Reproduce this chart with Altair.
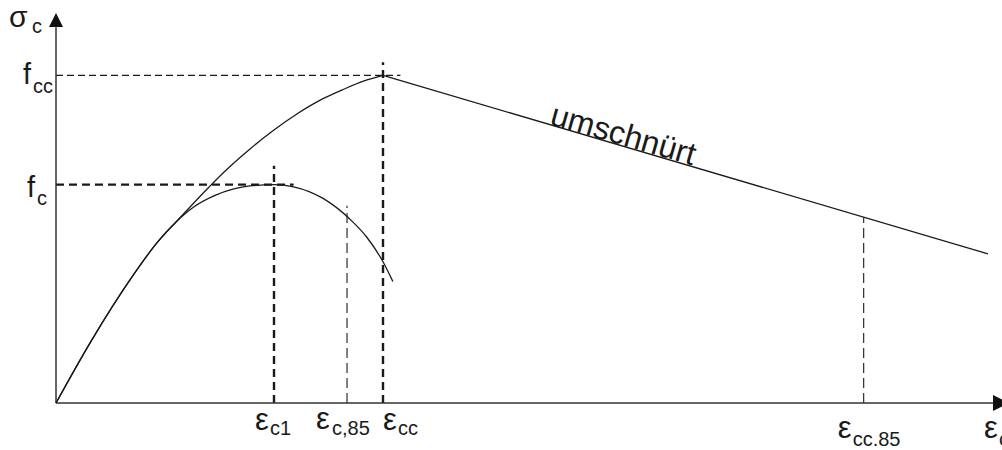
import altair as alt
import pandas as pd

# Stress-strain diagram of concrete: unconfined vs. confined (umschnürt)
# Units: strain in per mille, stress in MPa (schematic)

FONT = "Liberation Sans"
INK = "#1a1a1a"

# pixel density of the drawing and location of the origin on the canvas
W, H = 1002, 450
PX_PER_STRAIN = 109.0
PX_PER_STRESS = 7.28
ORIGIN_PX = (56, 403)

X_MIN = -ORIGIN_PX[0] / PX_PER_STRAIN
X_MAX = (W - ORIGIN_PX[0]) / PX_PER_STRAIN
Y_MIN = -(H - ORIGIN_PX[1]) / PX_PER_STRESS
Y_MAX = ORIGIN_PX[1] / PX_PER_STRESS

# characteristic values
f_c = 30.0
f_cc = 45.0
eps_c1 = 2.0
eps_c85 = 2.67
eps_cc = 3.0
eps_cc85 = 7.41

# ascending branch of the confined curve up to the peak (eps_cc, f_cc)
confined_strain = [0.0, 0.31, 0.71, 0.92, 1.11, 1.40, 1.54, 1.78, 1.99, 2.21, 2.45, 2.64, 2.82, 3.00]
confined_stress = [0.0, 8.2, 17.6, 21.9, 25.0, 29.6, 31.7, 34.9, 37.4, 39.7, 41.8, 43.1, 44.2, 45.0]

# unconfined curve with its peak at (eps_c1, f_c)
unconfined_strain = [0.0, 0.31, 0.71, 0.92, 1.11, 1.26, 1.47, 1.72, 2.00, 2.18, 2.45, 2.70, 2.85, 3.00, 3.09]
unconfined_stress = [0.0, 8.2, 17.6, 21.9, 25.0, 26.9, 28.6, 29.7, 30.0, 29.7, 28.1, 25.2, 22.8, 19.4, 16.7]

# linear softening branch of the confined concrete
softening_strain = [3.00, 8.55]
softening_stress = [45.0, 20.5]

XS = alt.Scale(domain=[X_MIN, X_MAX], nice=False, zero=False)
YS = alt.Scale(domain=[Y_MIN, Y_MAX], nice=False, zero=False)


def X(field):
    return alt.X(field, type="quantitative", scale=XS, axis=None)


def Y(field):
    return alt.Y(field, type="quantitative", scale=YS, axis=None)


curves = pd.concat([
    pd.DataFrame({"eps": confined_strain, "sig": confined_stress, "curve": "umschnürt"}),
    pd.DataFrame({"eps": unconfined_strain, "sig": unconfined_stress, "curve": "unumschnürt"}),
])

curve_layer = alt.Chart(curves).mark_line(
    interpolate="monotone", color=INK, strokeWidth=1.3
).encode(x=X("eps"), y=Y("sig"), detail="curve:N")

softening_layer = alt.Chart(
    pd.DataFrame({"eps": softening_strain, "sig": softening_stress})
).mark_line(color=INK, strokeWidth=1.3).encode(x=X("eps"), y=Y("sig"))


def rule_layer(df, width, dash):
    return alt.Chart(df).mark_rule(
        color=INK, strokeWidth=width, strokeDash=dash
    ).encode(x=X("x0"), x2="x1", y=Y("y0"), y2="y1")


# guide lines
thick_h = pd.DataFrame({"x0": [0.0], "x1": [2.18], "y0": [f_c], "y1": [f_c]})
thin_h = pd.DataFrame({"x0": [0.0], "x1": [3.16], "y0": [f_cc], "y1": [f_cc]})
thick_v = pd.DataFrame({"x0": [eps_c1, eps_cc], "x1": [eps_c1, eps_cc],
                        "y0": [0.0, 0.0], "y1": [32.6, 46.8]})
thin_v = pd.DataFrame({"x0": [eps_c85, eps_cc85], "x1": [eps_c85, eps_cc85],
                       "y0": [0.0, 0.0], "y1": [27.1, 25.5]})

guides = [
    rule_layer(thick_h, 2.4, [8, 5]),
    rule_layer(thin_h, 1.1, [7, 4]),
    rule_layer(thick_v, 2.4, [8, 5]),
    rule_layer(thin_v, 1.1, [10, 5]),
]

# coordinate axes with arrow heads
axes_df = pd.DataFrame({"x0": [0.0, 0.0], "x1": [0.0, 8.61], "y0": [0.0, 0.0], "y1": [51.6, 0.0]})
axes_layer = alt.Chart(axes_df).mark_rule(color="#333333", strokeWidth=1.5).encode(
    x=X("x0"), x2="x1", y=Y("y0"), y2="y1"
)

arrow_up = alt.Chart(pd.DataFrame({"x": [0.0], "y": [52.61]})).mark_point(
    shape="M0,-1L1,1L-1,1Z", size=196, filled=True, color="#111111", opacity=1
).encode(x=X("x"), y=Y("y"))
arrow_right = alt.Chart(pd.DataFrame({"x": [8.67], "y": [0.0]})).mark_point(
    shape="M1,0L-1,-1L-1,1Z", size=256, filled=True, color="#111111", opacity=1
).encode(x=X("x"), y=Y("y"))


def label(main, sub, x, y, dx, dy, sdx, sdy, size=29, sub_size=20):
    src = pd.DataFrame({"x": [x], "y": [y]})
    head = alt.Chart(src).mark_text(
        text=main, align="left", baseline="alphabetic", dx=dx, dy=dy,
        font=FONT, fontSize=size, color=INK
    ).encode(x=X("x"), y=Y("y"))
    tail = alt.Chart(src).mark_text(
        text=sub, align="left", baseline="alphabetic", dx=sdx, dy=sdy,
        font=FONT, fontSize=sub_size, color=INK
    ).encode(x=X("x"), y=Y("y"))
    return [head, tail]


labels = []
labels += label("σ", "c", 0.0, 52.61, -47, 7, -24, 13, size=30)
labels += label("f", "cc", 0.0, f_cc, -33, 9, -23, 18)
labels += label("f", "c", 0.0, f_c, -29, 12, -19, 20)
labels += label("ε", "c1", eps_c1, 0.0, -19, 27, -4, 32, size=31)
labels += label("ε", "c,85", eps_c85, 0.0, -31, 26, -15, 32, size=31)
labels += label("ε", "cc", eps_cc, 0.0, 0, 27, 15, 32, size=31)
labels += label("ε", "cc.85", eps_cc85, 0.0, -26, 35, -11, 43, size=31)
labels += label("ε", "c", 8.67, 0.0, -17, 35, -2, 43, size=31)

confined_label = alt.Chart(pd.DataFrame({"x": [4.52], "y": [38.3]})).mark_text(
    text="umschnürt", align="left", baseline="alphabetic", angle=16,
    font=FONT, fontSize=32, color=INK
).encode(x=X("x"), y=Y("y"))

chart = alt.layer(
    *guides, axes_layer, curve_layer, softening_layer, arrow_up, arrow_right,
    *labels, confined_label
).properties(
    width=W, height=H, padding=0,
    autosize=alt.AutoSizeParams(type="none"),
    background="white",
).configure_view(stroke=None)

chart.save("out.html", embed_options={"renderer": "svg", "actions": False})
